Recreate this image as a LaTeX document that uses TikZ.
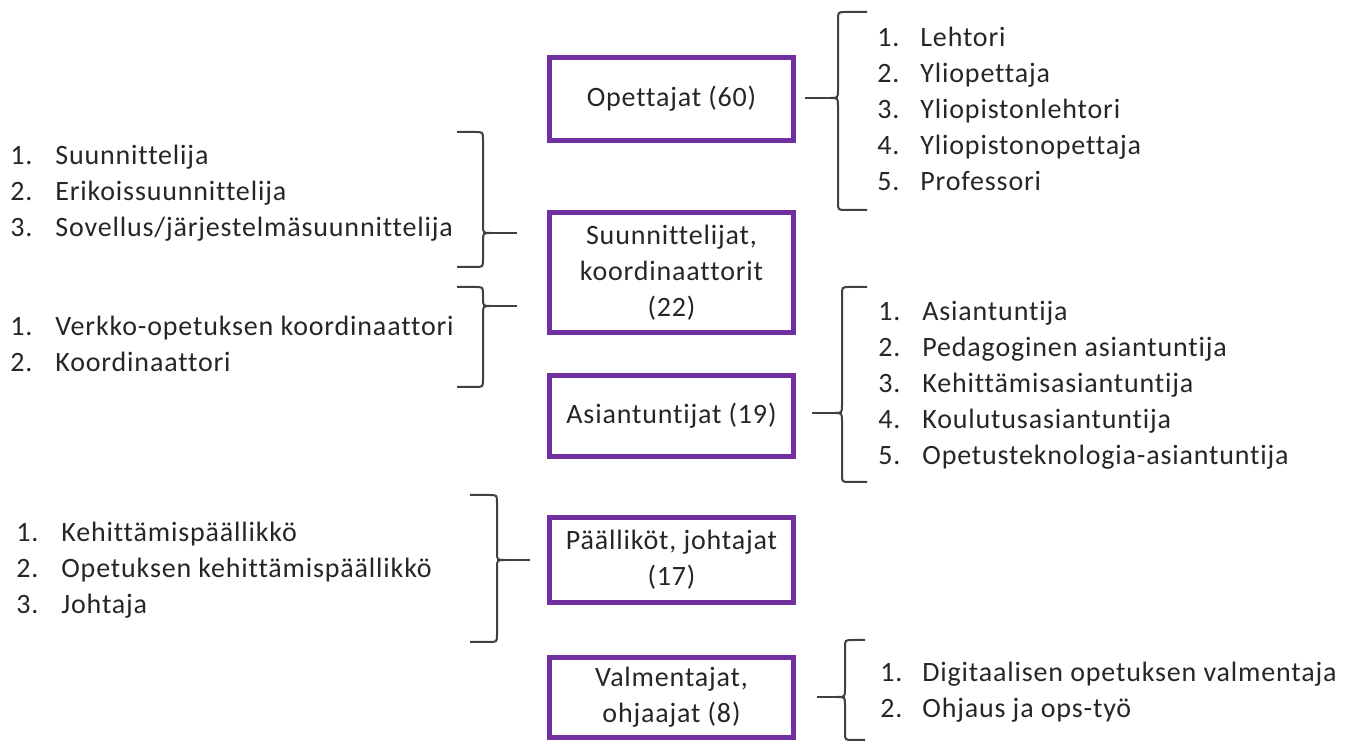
\documentclass[tikz,border=0pt]{standalone}
\usepackage{fontspec}
\setmainfont{Carlito}[Ligatures=NoCommon,LetterSpace=3.0]
\usepackage{tikz}
\definecolor{violetti}{RGB}{112,48,160}
\definecolor{teksti}{RGB}{38,38,38}
\definecolor{sulku}{RGB}{64,64,64}

\begin{document}
\begin{tikzpicture}[x=0.5pt,y=-0.5pt,
		laatikko/.style={draw=violetti,line width=2.5pt,minimum width=122pt,inner sep=0pt,align=center,text=teksti,font=\fontsize{14}{18}\selectfont},
		lista/.style={anchor=west,inner sep=0pt,align=left,text=teksti,font=\fontsize{14}{18}\selectfont},
		sulkeet/.style={draw=sulku,line width=1pt}]
		\useasboundingbox (0,0) rectangle (1351,742);
		%laatikot
		\node[laatikko,minimum height=41.5pt] (opettajat) at (671.5,99) {Opettajat (60)};
		\node[laatikko,minimum height=60pt] (suunnittelijat) at (671.5,272.5) {Suunnittelijat,\\koordinaattorit\\(22)};
		\node[laatikko,minimum height=40.5pt] (asiantuntijat) at (671.5,416) {Asiantuntijat (19)};
		\node[laatikko,minimum height=42.5pt] (paallikot) at (671.5,560) {Päälliköt, johtajat\\(17)};
		\node[laatikko,minimum height=40pt] (valmentajat) at (671.5,697.5) {Valmentajat,\\ohjaajat (8)};
		%listat
		\node[lista] (opettajalista) at (877,109) {\makebox[21.5pt][l]{1.}Lehtori\\\makebox[21.5pt][l]{2.}Yliopettaja\\\makebox[21.5pt][l]{3.}Yliopistonlehtori\\\makebox[21.5pt][l]{4.}Yliopistonopettaja\\\makebox[21.5pt][l]{5.}Professori};
		\node[lista] (suunnittelijalista) at (10,193) {\makebox[22.5pt][l]{1.}Suunnittelija\\\makebox[22.5pt][l]{2.}Erikoissuunnittelija\\\makebox[22.5pt][l]{3.}Sovellus/järjestelmäsuunnittelija};
		\node[lista] (koordinaattorilista) at (10,344) {\makebox[22.5pt][l]{1.}Verkko-opetuksen koordinaattori\\\makebox[22.5pt][l]{2.}Koordinaattori};
		\node[lista] (asiantuntijalista) at (878,385) {\makebox[22pt][l]{1.}Asiantuntija\\\makebox[22pt][l]{2.}Pedagoginen asiantuntija\\\makebox[22pt][l]{3.}Kehittämisasiantuntija\\\makebox[22pt][l]{4.}Koulutusasiantuntija\\\makebox[22pt][l]{5.}Opetusteknologia-asiantuntija};
		\node[lista] (paallikkolista) at (16,570) {\makebox[22.5pt][l]{1.}Kehittämispäällikkö\\\makebox[22.5pt][l]{2.}Opetuksen kehittämispäällikkö\\\makebox[22.5pt][l]{3.}Johtaja};
		\node[lista] (valmentajalista) at (880,692) {\makebox[21pt][l]{1.}Digitaalisen opetuksen valmentaja\\\makebox[21pt][l]{2.}Ohjaus ja ops-työ};
		%sulkeet
		\coordinate (k1) at (805,98);
		\draw[sulkeet] (867,12) -- (846,12) .. controls (838,12) .. (838,20) -- (838,90) .. controls (838,98) .. (830,98) .. controls (838,98) .. (838,106) -- (838,202) .. controls (838,210) .. (846,210) -- (867,210);
		\draw[sulkeet] (830,98) -- (k1);
		\coordinate (k2) at (517,233);
		\draw[sulkeet] (457,132) -- (475,132) .. controls (483,132) .. (483,140) -- (483,225) .. controls (483,233) .. (491,233) .. controls (483,233) .. (483,241) -- (483,259) .. controls (483,267) .. (475,267) -- (457,267);
		\draw[sulkeet] (491,233) -- (k2);
		\coordinate (k3) at (517,306);
		\draw[sulkeet] (457,287) -- (475,287) .. controls (483,287) .. (483,295) -- (483,298) .. controls (483,306) .. (491,306) .. controls (483,306) .. (483,314) -- (483,379) .. controls (483,387) .. (475,387) -- (457,387);
		\draw[sulkeet] (491,306) -- (k3);
		\coordinate (k4) at (812,413);
		\draw[sulkeet] (867,287) -- (850,287) .. controls (842,287) .. (842,295) -- (842,405) .. controls (842,413) .. (834,413) .. controls (842,413) .. (842,421) -- (842,474) .. controls (842,482) .. (850,482) -- (867,482);
		\draw[sulkeet] (834,413) -- (k4);
		\coordinate (k5) at (530,560);
		\draw[sulkeet] (470,495) -- (489,495) .. controls (497,495) .. (497,503) -- (497,552) .. controls (497,560) .. (505,560) .. controls (497,560) .. (497,568) -- (497,634) .. controls (497,642) .. (489,642) -- (470,642);
		\draw[sulkeet] (505,560) -- (k5);
		\coordinate (k6) at (817,697);
		\draw[sulkeet] (865,640) -- (853,640) .. controls (845,640) .. (845,648) -- (845,689) .. controls (845,697) .. (837,697) .. controls (845,697) .. (845,705) -- (845,732) .. controls (845,740) .. (853,740) -- (865,740);
		\draw[sulkeet] (837,697) -- (k6);
	\end{tikzpicture}
\end{document}
